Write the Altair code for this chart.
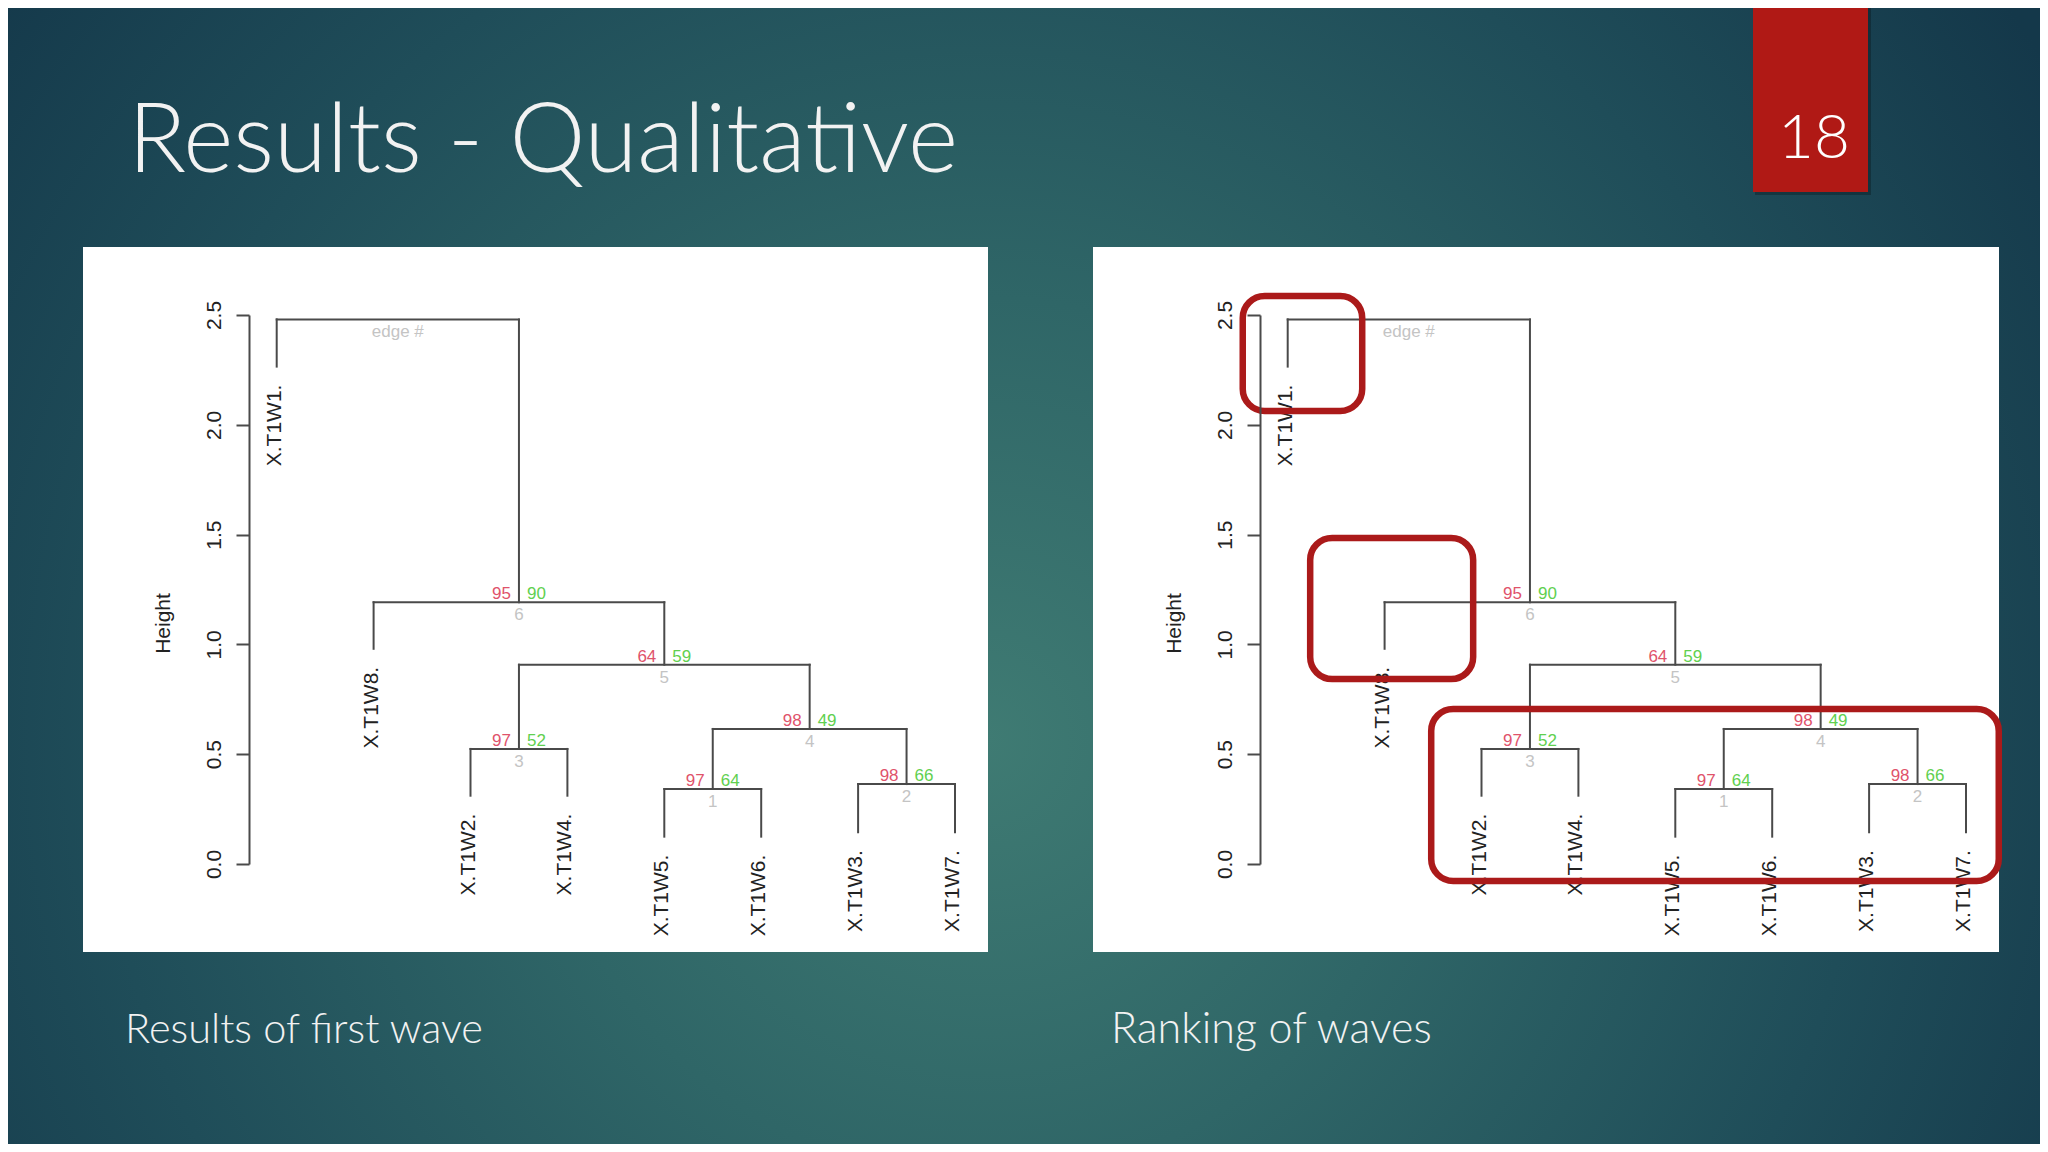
import altair as alt
import pandas as pd

# ---------------- data ----------------
leaf_names = ["X.T1W1.", "X.T1W8.", "X.T1W2.", "X.T1W4.", "X.T1W5.", "X.T1W6.", "X.T1W3.", "X.T1W7."]
leaf_end_height = [2.265, 0.980, 0.311, 0.311, 0.1245, 0.1245, 0.1445, 0.1445]

# hclust merges (node k = k-th entry); children are leaf names or earlier node numbers
merge_left = ["X.T1W5.", "X.T1W3.", "X.T1W2.", "1", "3", "X.T1W8.", "X.T1W1."]
merge_right = ["X.T1W6.", "X.T1W7.", "X.T1W4.", "2", "4", "5", "6"]
merge_height = [0.3415, 0.364, 0.524, 0.615, 0.9075, 1.192, 2.48]

au_values = [97, 98, 97, 98, 64, 95]
bp_values = [64, 66, 52, 49, 59, 90]
edge_labels = ["1", "2", "3", "4", "5", "6", "edge #"]

y_ticks = [0.0, 0.5, 1.0, 1.5, 2.0, 2.5]

# highlight boxes on "Ranking of waves" (leaf units / height units)
box_x0 = [0.536, 1.232, 2.481]
box_x1 = [1.769, 2.914, 8.338]
box_top = [2.587, 1.485, 0.706]
box_bottom = [2.063, 0.842, -0.077]

title_text = "Results - Qualitative"
slide_number = "18"
caption_left = "Results of first wave"
caption_right = "Ranking of waves"

# ---------------- build tree geometry ----------------
pos = {n: i + 1 for i, n in enumerate(leaf_names)}
top = {n: h for n, h in zip(leaf_names, leaf_end_height)}
segs = []
nodes = []
for k, (a, b, h) in enumerate(zip(merge_left, merge_right, merge_height), start=1):
    xa, xb = pos[a], pos[b]
    segs.append(dict(x=xa, x2=xb, y=h, y2=h))
    segs.append(dict(x=xa, x2=xa, y=h, y2=top[a]))
    segs.append(dict(x=xb, x2=xb, y=h, y2=top[b]))
    pos[str(k)] = (xa + xb) / 2
    top[str(k)] = h
    nodes.append(dict(x=pos[str(k)], h=h, edge=edge_labels[k - 1],
                      au=str(au_values[k - 1]) if k <= len(au_values) else "",
                      bp=str(bp_values[k - 1]) if k <= len(bp_values) else ""))

seg_df = pd.DataFrame(segs)
node_df = pd.DataFrame(nodes)
leaf_df = pd.DataFrame(dict(x=[pos[n] for n in leaf_names], h=leaf_end_height, name=leaf_names))
box_df = pd.DataFrame(dict(x=box_x0, x2=box_x1, y=box_top, y2=box_bottom))
one = pd.DataFrame({"k": [0]})

W, H = 2032, 1136
RFONT = "Liberation Sans"
SFONT = "Lato"
LINE = "#4a4a4a"


def panel(x_range, axis_offset, boxes=False):
    xs = alt.Scale(domain=[1, 8], range=x_range, zero=False, nice=False)
    ys = alt.Scale(domain=[0, 2.5], range=[856, 307], zero=False, nice=False)
    yaxis = alt.Axis(orient="left", offset=axis_offset, values=y_ticks, format=".1f", zindex=2,
                     grid=False, domainColor=LINE, domainWidth=2,
                     tickColor=LINE, tickWidth=2, tickSize=13,
                     labelAngle=270, labelAlign="center", labelBaseline="bottom",
                     labelPadding=12, labelFont=RFONT, labelFontSize=21, labelColor="#222222",
                     labelFlush=False, labelOverlap=False, labelBound=False,
                     title="Height", titleFont=RFONT, titleFontSize=21, titleFontWeight="normal",
                     titleColor="#222222", titleAngle=270, titleAlign="center",
                     titleBaseline="alphabetic", titleX=-80, titleY=615)
    layers = []
    layers.append(alt.Chart(seg_df).mark_rule(color=LINE, strokeWidth=2, strokeCap="square").encode(
        x=alt.X("x:Q", scale=xs, axis=None), x2="x2:Q",
        y=alt.Y("y:Q", scale=ys, axis=yaxis), y2="y2:Q"))
    layers.append(alt.Chart(leaf_df).mark_text(angle=270, align="right", baseline="middle", dx=-18, dy=-2,
                                               font=RFONT, fontSize=21, color="#222222").encode(
        x=alt.X("x:Q", scale=xs, axis=None), y=alt.Y("h:Q", scale=ys, axis=None), text="name:N"))
    layers.append(alt.Chart(node_df).mark_text(align="right", baseline="alphabetic", dx=-8, dy=-3,
                                               font=RFONT, fontSize=17, color="#DF536B").encode(
        x=alt.X("x:Q", scale=xs, axis=None), y=alt.Y("h:Q", scale=ys, axis=None), text="au:N"))
    layers.append(alt.Chart(node_df).mark_text(align="left", baseline="alphabetic", dx=8, dy=-3,
                                               font=RFONT, fontSize=17, color="#61D04F").encode(
        x=alt.X("x:Q", scale=xs, axis=None), y=alt.Y("h:Q", scale=ys, axis=None), text="bp:N"))
    layers.append(alt.Chart(node_df).mark_text(align="center", baseline="top", dy=5,
                                               font=RFONT, fontSize=17, color="#c4c4c4").encode(
        x=alt.X("x:Q", scale=xs, axis=None), y=alt.Y("h:Q", scale=ys, axis=None), text="edge:N"))
    if boxes:
        layers.append(alt.Chart(box_df).mark_rect(fillOpacity=0, stroke="#ab1a1a", strokeWidth=6.5,
                                                  cornerRadius=22).encode(
            x=alt.X("x:Q", scale=xs, axis=None), x2="x2:Q",
            y=alt.Y("y:Q", scale=ys, axis=None), y2="y2:Q"))
    return layers


bg = alt.Chart(one).mark_rect(fill={
    "gradient": "radial",
    "x1": 0.48, "y1": 0.58, "r1": 0.0,
    "x2": 0.48, "y2": 0.58, "r2": 0.62,
    "stops": [
        {"offset": 0.0, "color": "#3f7b73"},
        {"offset": 0.35, "color": "#2f6667"},
        {"offset": 0.7, "color": "#1f4d59"},
        {"offset": 1.0, "color": "#14384a"},
    ]}).encode(x=alt.value(0), x2=alt.value(W), y=alt.value(0), y2=alt.value(H))

panel_left = alt.Chart(one).mark_rect(color="white").encode(
    x=alt.value(75), x2=alt.value(980), y=alt.value(239), y2=alt.value(944))
panel_right = alt.Chart(one).mark_rect(color="white").encode(
    x=alt.value(1085), x2=alt.value(1991), y=alt.value(239), y2=alt.value(944))

num_shadow = alt.Chart(one).mark_rect(color="black", opacity=0.25).encode(
    x=alt.value(1747), x2=alt.value(1863), y=alt.value(-8), y2=alt.value(187))
num_box = alt.Chart(one).mark_rect(color="#b01915").encode(
    x=alt.value(1745), x2=alt.value(1860), y=alt.value(-8), y2=alt.value(184))
num_text = alt.Chart(one).mark_text(font=SFONT, fontWeight=300, fontSize=62, color="white",
                                    align="center", baseline="alphabetic").encode(
    x=alt.value(1806), y=alt.value(150), text=alt.value(slide_number))

title = alt.Chart(one).mark_text(font=SFONT, fontWeight=300, fontSize=96, color="#f2f2f2",
                                 align="left", baseline="alphabetic").encode(
    x=alt.value(120), y=alt.value(164), text=alt.value(title_text))
cap_l = alt.Chart(one).mark_text(font=SFONT, fontWeight=300, fontSize=41.5, color="#f2f2f2",
                                 align="left", baseline="alphabetic").encode(
    x=alt.value(117), y=alt.value(1035), text=alt.value(caption_left))
cap_r = alt.Chart(one).mark_text(font=SFONT, fontWeight=300, fontSize=43, color="#f2f2f2",
                                 align="left", baseline="alphabetic").encode(
    x=alt.value(1103), y=alt.value(1035), text=alt.value(caption_right))

layers = [bg, panel_left, panel_right, num_shadow, num_box, num_text, title, cap_l, cap_r]
layers += panel([268.7, 268.7 + 7 * 96.9], -241)
layers += panel([1279.7, 1279.7 + 7 * 96.9], -1252, boxes=True)

chart = alt.layer(*layers).resolve_scale(x="independent", y="independent").properties(
    width=W, height=H, padding=0, autosize=alt.AutoSizeParams(type="none")
).configure_view(stroke=None)

chart.save("out.html", embed_options={"renderer": "svg", "actions": False})
